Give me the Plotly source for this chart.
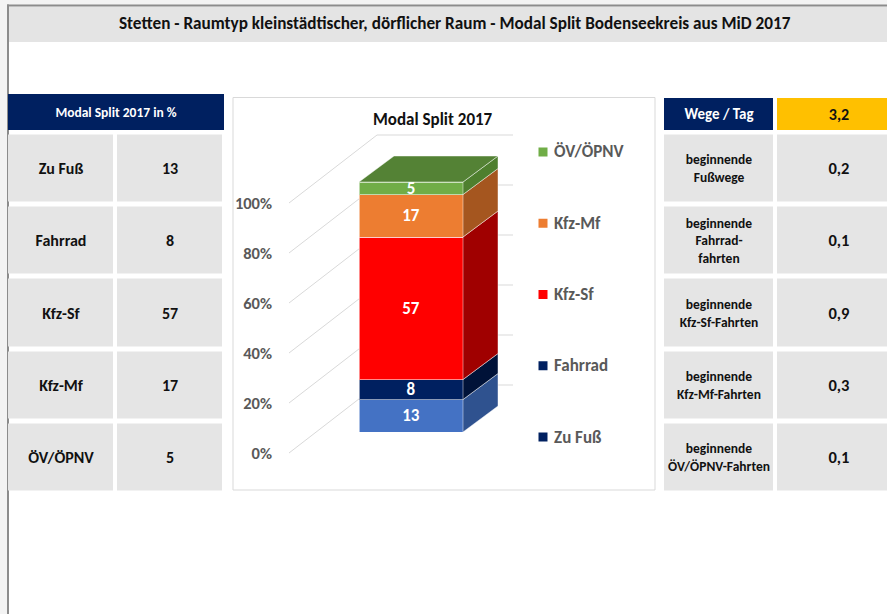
import plotly.graph_objects as go

# ---------------- data ----------------
modes = ["Zu Fuß", "Fahrrad", "Kfz-Sf", "Kfz-Mf", "ÖV/ÖPNV"]
shares = [13, 8, 57, 17, 5]
trip_labels = ["beginnende<br>Fußwege", "beginnende<br>Fahrrad-<br>fahrten",
               "beginnende<br>Kfz-Sf-Fahrten", "beginnende<br>Kfz-Mf-Fahrten",
               "beginnende<br>ÖV/ÖPNV-Fahrten"]
trips_per_day = [0.2, 0.1, 0.9, 0.3, 0.1]
total_trips = 3.2
y_ticks = [0, 20, 40, 60, 80, 100]
main_title = "Stetten - Raumtyp kleinstädtischer, dörflicher Raum - Modal Split Bodenseekreis aus MiD 2017"
chart_title = "Modal Split 2017"
left_header = "Modal Split 2017 in %"
right_header = "Wege / Tag"

# ---------------- styles ----------------
W, H = 887, 614
FONT = "Carlito, Lato, sans-serif"
NAVY = "#002060"
GRAY_CELL = "#e5e5e5"
YELLOW = "#ffc000"
TXT = "#111111"
AXIS_TXT = "#595959"
front_colors = ["#4472c4", "#002060", "#ff0000", "#ed7d31", "#70ad47"]
side_colors = ["#2f528f", "#001238", "#a00000", "#a5561f", "#4e7f2e"]
top_color = "#548235"
legend_colors = ["#002060", "#002060", "#ff0000", "#ed7d31", "#70ad47"]


def px(x):
    return x / W


def py(y):
    return 1 - y / H


def de(v):
    return f"{v:.1f}".replace(".", ",")


fig = go.Figure()

# ---------------- background frame ----------------
shapes = [
    dict(type="rect", xref="paper", yref="paper", x0=0, x1=1, y0=py(5), y1=1,
         fillcolor="#f3f3f3", line_width=0, layer="below"),
    dict(type="rect", xref="paper", yref="paper", x0=0, x1=px(7), y0=0, y1=1,
         fillcolor="#f3f3f3", line_width=0, layer="below"),
    dict(type="rect", xref="paper", yref="paper", x0=px(9), x1=1, y0=py(42), y1=py(6.5),
         fillcolor="#e4e4e4", line_width=0, layer="below"),
    dict(type="rect", xref="paper", yref="paper", x0=px(7), x1=1, y0=py(6.5), y1=py(4.5),
         fillcolor="#8c8c8c", line_width=0, layer="below"),
    dict(type="rect", xref="paper", yref="paper", x0=px(7), x1=px(9), y0=0, y1=py(4.5),
         fillcolor="#8c8c8c", line_width=0, layer="below"),
    dict(type="rect", xref="paper", yref="paper", x0=px(233), x1=px(655), y0=py(490), y1=py(97.5),
         fillcolor="white", line=dict(color="#d9d9d9", width=1), layer="below"),
]


def solid(c):
    return [[0, c], [1, c]]


# ---------------- left table ----------------
fig.add_trace(go.Heatmap(
    z=[[1]], text=[[left_header]], texttemplate="<b>%{text}</b>",
    textfont=dict(color="white", size=13.5, family=FONT),
    colorscale=solid(NAVY), showscale=False, hoverinfo="skip",
    xaxis="x2", yaxis="y2"))

fig.add_trace(go.Heatmap(
    z=[[1, 1] for _ in modes], x=[0, 1], y=list(range(len(modes))),
    text=[[m, str(s)] for m, s in zip(modes, shares)], texttemplate="<b>%{text}</b>",
    textfont=dict(color=TXT, size=16, family=FONT),
    colorscale=solid(GRAY_CELL), showscale=False, hoverinfo="skip",
    xgap=4, ygap=5, xaxis="x3", yaxis="y3"))

# ---------------- right table ----------------
rx_edges = [662, 775, 902]
fig.add_trace(go.Heatmap(
    z=[[1, None]], x=rx_edges, y=[0], text=[[right_header, ""]],
    texttemplate="<b>%{text}</b>", textfont=dict(color="white", size=15, family=FONT),
    colorscale=solid(NAVY), showscale=False, hoverinfo="skip",
    xgap=4, ygap=4, xaxis="x4", yaxis="y4"))
fig.add_trace(go.Heatmap(
    z=[[None, 1]], x=rx_edges, y=[0], text=[["", de(total_trips)]],
    texttemplate="<b>%{text}</b>", textfont=dict(color=TXT, size=16, family=FONT),
    colorscale=solid(YELLOW), showscale=False, hoverinfo="skip",
    xgap=4, ygap=4, xaxis="x4", yaxis="y4"))

fig.add_trace(go.Heatmap(
    z=[[1, None] for _ in trip_labels], x=rx_edges, y=list(range(len(trip_labels))),
    text=[[t, ""] for t in trip_labels], texttemplate="<b>%{text}</b>",
    textfont=dict(color=TXT, size=13.5, family=FONT),
    colorscale=solid(GRAY_CELL), showscale=False, hoverinfo="skip",
    xgap=4, ygap=5, xaxis="x5", yaxis="y5"))
fig.add_trace(go.Heatmap(
    z=[[None, 1] for _ in trips_per_day], x=rx_edges, y=list(range(len(trips_per_day))),
    text=[["", de(v)] for v in trips_per_day], texttemplate="<b>%{text}</b>",
    textfont=dict(color=TXT, size=16.5, family=FONT),
    colorscale=solid(GRAY_CELL), showscale=False, hoverinfo="skip",
    xgap=4, ygap=5, xaxis="x5", yaxis="y5"))

# ---------------- pseudo-3D stacked column ----------------
BAR_CX, BAR_W = 411, 104          # px centre / width of front face
Y0_PX, PX_PER_PCT = 432, 2.5      # front face baseline, scale
SIDE_DX, SIDE_DY = 35 / BAR_W, 26 / PX_PER_PCT
AX_OFF = -21 / PX_PER_PCT         # front plane of axis relative to bar face
GRID_FX, GRID_BX, GRID_EX = (289 - BAR_CX) / BAR_W, (377 - BAR_CX) / BAR_W, (513 - BAR_CX) / BAR_W
GRID_BDY = 68 / PX_PER_PCT

for m, s, c in zip(modes, shares, front_colors):
    fig.add_trace(go.Bar(
        x=[0], y=[s], width=1, name=m,
        marker=dict(color=c, line=dict(color="rgba(255,255,255,0.55)", width=1)),
        text=[s], texttemplate="<b>%{text}</b>", textposition="inside", insidetextanchor="middle",
        textangle=0, constraintext="none", textfont=dict(color="white", size=17, family=FONT),
        hoverinfo="skip", showlegend=False, xaxis="x6", yaxis="y6"))

base = 0
for s, c in zip(shares, side_colors):
    top = base + s
    fig.add_trace(go.Scatter(
        x=[0.5, 0.5 + SIDE_DX, 0.5 + SIDE_DX, 0.5, 0.5],
        y=[base, base + SIDE_DY, top + SIDE_DY, top, base],
        fill="toself", fillcolor=c, mode="lines",
        line=dict(color="rgba(255,255,255,0.45)", width=1),
        hoverinfo="skip", showlegend=False, xaxis="x6", yaxis="y6"))
    base = top
total = base
fig.add_trace(go.Scatter(
    x=[-0.5, 0.5, 0.5 + SIDE_DX, -0.5 + SIDE_DX, -0.5],
    y=[total, total, total + SIDE_DY, total + SIDE_DY, total],
    fill="toself", fillcolor=top_color, mode="lines",
    line=dict(color="rgba(255,255,255,0.45)", width=1),
    hoverinfo="skip", showlegend=False, xaxis="x6", yaxis="y6"))

for t in y_ticks:
    shapes.append(dict(type="path", xref="x6", yref="y6", layer="below",
                       path=f"M {GRID_FX},{t + AX_OFF} L {GRID_BX},{t + AX_OFF + GRID_BDY} L {GRID_EX},{t + AX_OFF + GRID_BDY}",
                       line=dict(color="#d9d9d9", width=1)))

# legend (custom, vertical)
LEG_X = (543 - BAR_CX) / BAR_W
LEG_TX = (552 - BAR_CX) / BAR_W
LEG_TOP, LEG_STEP = (Y0_PX - 152) / PX_PER_PCT, 71.25 / PX_PER_PCT
leg_modes = modes[::-1]
leg_cols = legend_colors[::-1]
leg_y = [LEG_TOP - i * LEG_STEP for i in range(len(leg_modes))]
fig.add_trace(go.Scatter(
    x=[LEG_X] * len(leg_modes), y=leg_y,
    mode="markers", marker=dict(symbol="square", size=9, color=leg_cols),
    hoverinfo="skip", showlegend=False, xaxis="x6", yaxis="y6"))

annotations = [
    dict(text=f"<b>{main_title}</b>", xref="paper", yref="paper", x=px(455), y=py(23),
         showarrow=False, font=dict(size=17.2, color=TXT, family=FONT), xanchor="center", yanchor="middle"),
    dict(text=f"<b>{chart_title}</b>", xref="paper", yref="paper", x=px(433), y=py(120),
         showarrow=False, font=dict(size=17, color=TXT, family=FONT), xanchor="center", yanchor="middle"),
]
for m, yv in zip(leg_modes, leg_y):
    annotations.append(dict(text=f"<b>{m}</b>", xref="x6", yref="y6", x=LEG_TX, y=yv,
                            showarrow=False, xanchor="left", yanchor="middle",
                            font=dict(size=17, color=AXIS_TXT, family=FONT)))

# ---------------- axes ----------------
hidden = dict(visible=False, fixedrange=True)
CH_X0, CH_X1, CH_Y0, CH_Y1 = 277, 655, 97.5, 490
fig.update_layout(
    width=W, height=H, margin=dict(l=0, r=0, t=0, b=0),
    paper_bgcolor="white", plot_bgcolor="rgba(0,0,0,0)",
    barmode="stack", hovermode=False, showlegend=False,
    font=dict(family=FONT),
    shapes=shapes,
    annotations=annotations,
    xaxis=dict(visible=False),
    yaxis=dict(visible=False),
    xaxis2=dict(domain=[px(8), px(224)], anchor="y2", **hidden),
    yaxis2=dict(domain=[py(130), py(94)], anchor="x2", **hidden),
    xaxis3=dict(domain=[px(6), px(224)], anchor="y3", **hidden),
    yaxis3=dict(domain=[py(493.5), py(132.5)], anchor="x3", autorange="reversed", **hidden),
    xaxis4=dict(domain=[px(662), 1], anchor="y4", range=[662, 887], **hidden),
    yaxis4=dict(domain=[py(132), py(96)], anchor="x4", **hidden),
    xaxis5=dict(domain=[px(662), 1], anchor="y5", range=[662, 887], **hidden),
    yaxis5=dict(domain=[py(493.5), py(132.5)], anchor="x5", autorange="reversed", **hidden),
    xaxis6=dict(domain=[px(CH_X0), px(CH_X1)], anchor="y6",
                range=[(CH_X0 - BAR_CX) / BAR_W, (CH_X1 - BAR_CX) / BAR_W],
                visible=False, fixedrange=True),
    yaxis6=dict(domain=[py(CH_Y1), py(CH_Y0)], anchor="x6",
                range=[(Y0_PX - CH_Y1) / PX_PER_PCT, (Y0_PX - CH_Y0) / PX_PER_PCT],
                tickvals=[t + AX_OFF for t in y_ticks], ticktext=[f"<b>{t}%</b>" for t in y_ticks],
                tickfont=dict(color=AXIS_TXT, size=16.5, family=FONT), ticks="",
                showgrid=False, zeroline=False, showline=False, ticklabelstandoff=4,
                fixedrange=True),
)

fig.write_html("out.html", config={"displayModeBar": False},
               post_script="document.body.style.margin='0';")
